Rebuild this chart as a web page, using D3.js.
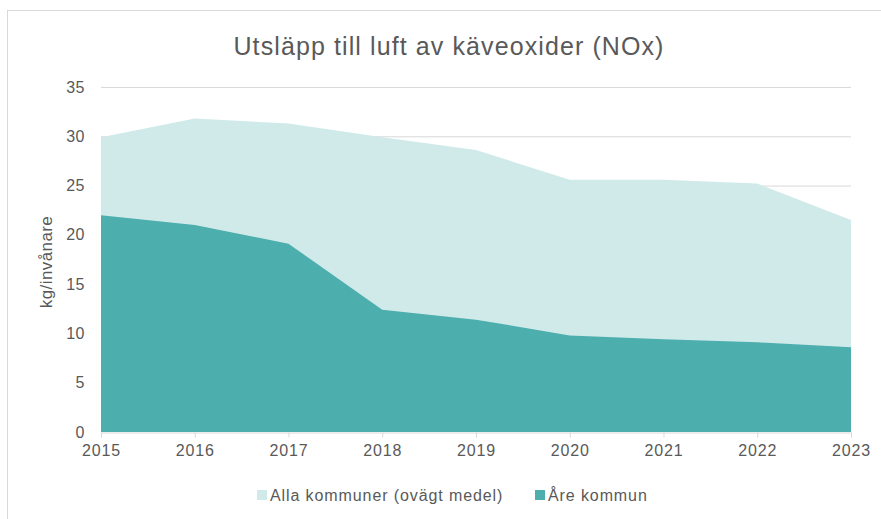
<!DOCTYPE html>
<html>
<head>
<meta charset="utf-8">
<script src="https://cdn.jsdelivr.net/npm/d3@7"></script>
<style>
  body { margin: 0; background: #fff; }
  text { font-family: "Liberation Sans", Arial, sans-serif; fill: #595959; }
</style>
</head>
<body>
<svg id="chart"></svg>
<script>
const years = [2015, 2016, 2017, 2018, 2019, 2020, 2021, 2022, 2023];
const allaKommuner = [29.9, 31.8, 31.3, 29.9, 28.6, 25.6, 25.6, 25.2, 21.5];
const areKommun = [22.0, 21.0, 19.1, 12.4, 11.4, 9.8, 9.4, 9.1, 8.6];
const yTicks = [0, 5, 10, 15, 20, 25, 30, 35];
const seriesNames = ['Alla kommuner (ovägt medel)', 'Åre kommun'];
const seriesColors = ['#d0eaea', '#4daeae'];

const width = 881;
const height = 519;
const plotLeft = 101;
const plotRight = 851;
const plotTop = 87;
const plotBottom = 432;

const svg = d3.select('#chart').attr('width', width).attr('height', height);

// frame of the chart box
svg.append('rect').attr('x', 7.5).attr('y', 10.5).attr('width', 900).attr('height', 600)
  .attr('fill', 'none').attr('stroke', '#d9d9d9');

const xScale = d3.scaleLinear().domain([2015, 2023]).range([plotLeft, plotRight]);
const yScale = d3.scaleLinear().domain([0, 35]).range([plotBottom, plotTop]);

// gridlines
svg.append('g').selectAll('line').data(yTicks.filter(d => d > 0)).enter().append('line')
  .attr('x1', plotLeft).attr('x2', plotRight)
  .attr('y1', d => yScale(d) + 0.5).attr('y2', d => yScale(d) + 0.5)
  .attr('stroke', '#d9d9d9').attr('stroke-width', 1);

const area = (values) => d3.area()
  .x((d, i) => xScale(years[i]))
  .y0(yScale(0))
  .y1(d => yScale(d))(values);

svg.append('path').attr('d', area(allaKommuner)).attr('fill', seriesColors[0]);
svg.append('path').attr('d', area(areKommun)).attr('fill', seriesColors[1]);

// x axis
const xAxis = d3.axisBottom(xScale).tickValues(years).tickFormat(d3.format('d')).tickSize(5).tickPadding(7);
const xAxisGroup = svg.append('g').attr('transform', `translate(0, ${plotBottom + 0.5})`).call(xAxis);
xAxisGroup.select('.domain').attr('stroke', '#d9d9d9');
xAxisGroup.selectAll('.tick line').attr('stroke', '#d9d9d9');
xAxisGroup.selectAll('.tick text').attr('font-size', 16).attr('fill', '#595959')
  .attr('letter-spacing', 0.8)
  .style('font-family', '"Liberation Sans", Arial, sans-serif');

// y axis
const yAxis = d3.axisLeft(yScale).tickValues(yTicks).tickSize(0).tickPadding(16);
const yAxisGroup = svg.append('g').attr('transform', `translate(${plotLeft}, 0)`).call(yAxis);
yAxisGroup.select('.domain').remove();
yAxisGroup.selectAll('.tick text').attr('font-size', 16).attr('fill', '#595959')
  .attr('letter-spacing', 0.5)
  .style('font-family', '"Liberation Sans", Arial, sans-serif');

// y label
svg.append('text').attr('transform', 'translate(52, 262) rotate(-90)')
  .attr('text-anchor', 'middle').attr('font-size', 17).attr('letter-spacing', 0.4).text('kg/invånare');

// title
svg.append('text').attr('x', 449).attr('y', 55).attr('text-anchor', 'middle')
  .attr('font-size', 25).attr('letter-spacing', 1.1).text('Utsläpp till luft av käveoxider (NOx)');

// legend
const legendX = [257, 535];
const legend = svg.append('g').selectAll('g').data(seriesNames).enter().append('g')
  .attr('transform', (d, i) => `translate(${legendX[i]}, 490)`);
legend.append('rect').attr('width', 10).attr('height', 10).attr('fill', (d, i) => seriesColors[i]);
legend.append('text').attr('x', 13).attr('y', 10.5).attr('font-size', 16).attr('letter-spacing', 0.9).text(d => d);
</script>
</body>
</html>
